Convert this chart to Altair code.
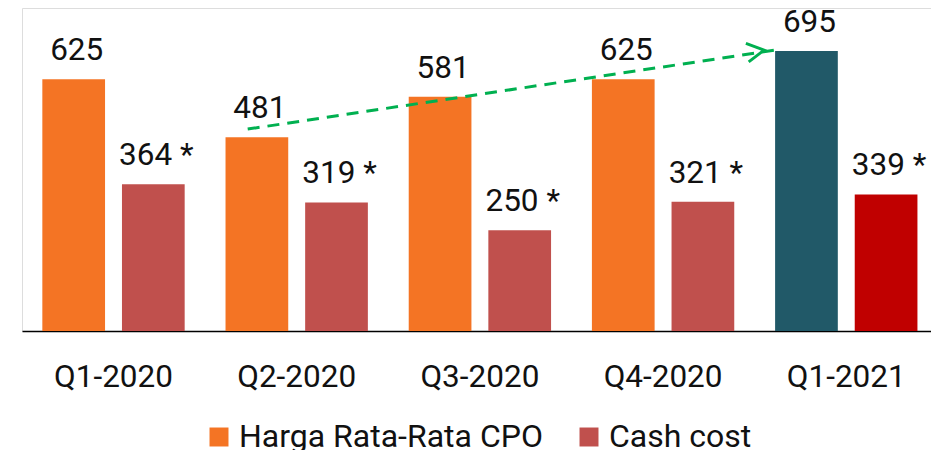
import altair as alt
import pandas as pd

quarters = ["Q1-2020", "Q2-2020", "Q3-2020", "Q4-2020", "Q1-2021"]
cpo_price = [625, 481, 581, 625, 695]
cash_cost = [364, 319, 250, 321, 339]
cash_labels = ["364 *", "319 *", "250 *", "321 *", "339 *"]
series_names = ["Harga Rata-Rata CPO", "Cash cost"]
color_keys = ["Harga Rata-Rata CPO", "Cash cost", "CPO Q1-2021", "Cash Q1-2021"]
color_values = ["#F47424", "#C0504D", "#215968", "#C00000"]

# trend arrow (from the Q2-2020 bar towards the Q1-2021 bar)
arrow_from = "Q2-2020"
arrow_to = "Q1-2021"
arrow_from_val = 501
arrow_to_val = 697

rows = []
for i, q in enumerate(quarters):
    last = q == "Q1-2021"
    rows.append({"quarter": q, "series": series_names[0], "value": cpo_price[i],
                 "label": str(cpo_price[i]), "ckey": color_keys[2] if last else color_keys[0]})
    rows.append({"quarter": q, "series": series_names[1], "value": cash_cost[i],
                 "label": cash_labels[i], "ckey": color_keys[3] if last else color_keys[1]})
df = pd.DataFrame(rows)
arrow_df = pd.DataFrame([{"q1": arrow_from, "q2": arrow_to, "v1": arrow_from_val, "v2": arrow_to_val}])

FONT = "Roboto"
FS = 31.5
TXT = "#111111"

xscale = alt.Scale(domain=quarters, paddingInner=0.223, paddingOuter=0.0925, align=0.6)
x_enc = alt.X("quarter:N", scale=xscale, title=None,
              axis=alt.Axis(labelFontSize=FS, labelFont=FONT, labelColor=TXT,
                            labelPadding=30, ticks=False, tickSize=0, domainColor="#000000",
                            domainWidth=1.5, labelAngle=0))
y_enc = alt.Y("value:Q", scale=alt.Scale(domain=[0, 801.5], nice=False, zero=True), axis=None)
xoff = alt.XOffset("series:N", sort=series_names,
                   scale=alt.Scale(domain=series_names, paddingInner=0.2125, paddingOuter=0))

bars = alt.Chart(df).mark_bar().encode(
    x=x_enc, y=y_enc, xOffset=xoff,
    color=alt.Color("ckey:N", scale=alt.Scale(domain=color_keys, range=color_values),
                    legend=alt.Legend(values=series_names, title=None, orient="none",
                                      legendX=181, legendY=413, direction="horizontal",
                                      symbolType="square", symbolSize=360, symbolStrokeWidth=0,
                                      labelFontSize=32, labelFont=FONT, labelColor=TXT,
                                      labelOffset=4, columnPadding=30, padding=0,
                                      labelLimit=500)),
)

labels = alt.Chart(df).mark_text(fontSize=FS, font=FONT, color=TXT, dy=-19, dx=3,
                                 baseline="alphabetic").encode(
    x=alt.X("quarter:N", scale=xscale), y="value:Q", xOffset=xoff, text="label:N")

arrow_line = alt.Chart(arrow_df).mark_rule(color="#00B050", strokeWidth=3,
                                           strokeDash=[12, 8], xOffset=-11).encode(
    x=alt.X("q1:N", scale=xscale, bandPosition=0.233),
    x2=alt.X2("q2", bandPosition=0),
    y=alt.Y("v1:Q"), y2=alt.Y2("v2"))

arrow_head = alt.Chart(arrow_df).mark_point(
    shape="M-1,-0.55L0,0L-1,0.55", size=1156, filled=False, color="#00B050",
    strokeWidth=3, angle=351.3, opacity=1, xOffset=-11).encode(
    x=alt.X("q2:N", scale=xscale, bandPosition=0),
    y=alt.Y("v2:Q"))

chart = alt.layer(bars, labels, arrow_line, arrow_head).properties(
    width=909, height=323,
    autosize=alt.AutoSizeParams(type="none"),
    padding={"left": 14, "top": 0, "right": 0, "bottom": 119},
).configure_view(stroke=None).configure(background="white")

chart.save("out.html", embed_options={"renderer": "svg", "actions": False})
